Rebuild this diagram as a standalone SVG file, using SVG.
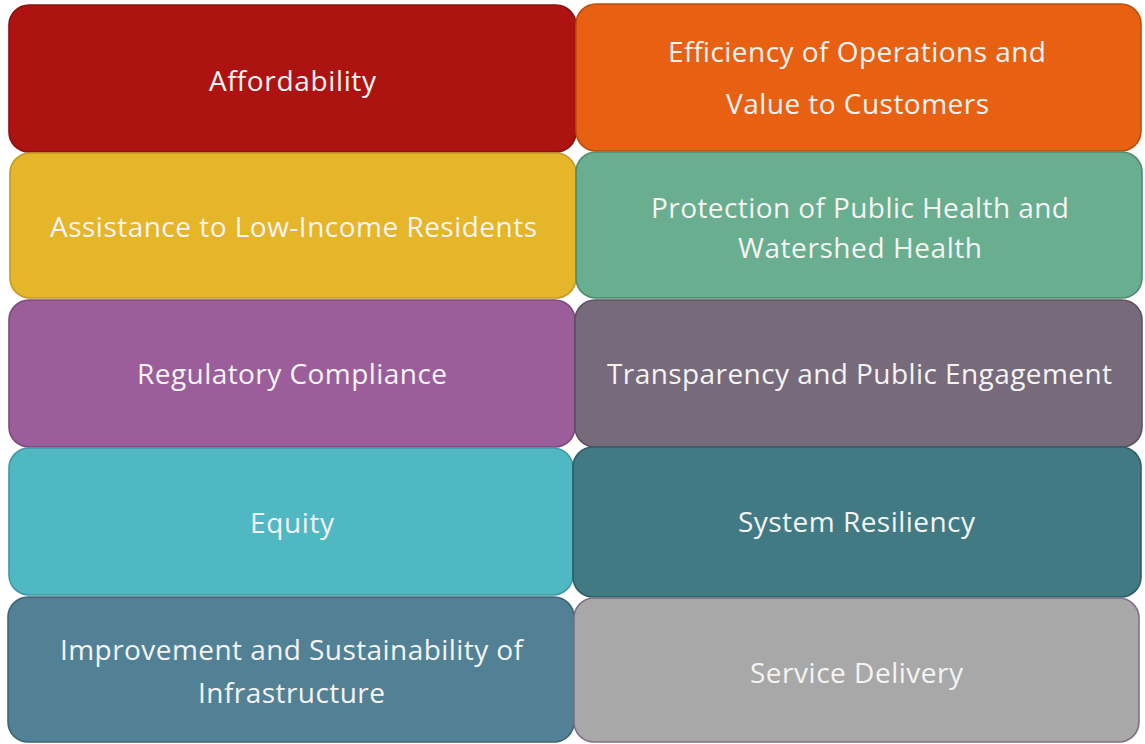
<svg xmlns="http://www.w3.org/2000/svg" width="1145" height="744" viewBox="0 0 1145 744">
  <style>
    .box { stroke-width: 1.6; }
    .lbl { font-family: "Open Sans", "Liberation Sans", sans-serif; font-size: 28px; fill: #f4f4f4; text-anchor: middle; }
  </style>
  <rect width="1145" height="744" fill="#ffffff"/>

  <g id="affordability">
    <rect class="box" x="9" y="5" width="567" height="147" rx="20" fill="#ad1411" stroke="#8a1010"/>
    <text class="lbl" x="292.5" y="91" textLength="167">Affordability</text>
  </g>
  <g id="efficiency">
    <rect class="box" x="576" y="4" width="565" height="147" rx="20" fill="#e86113" stroke="#b94e10"/>
    <text class="lbl" x="857" y="62" textLength="378">Efficiency of Operations and</text>
    <text class="lbl" x="857.5" y="114" textLength="263">Value to Customers</text>
  </g>
  <g id="assistance">
    <rect class="box" x="10" y="153" width="566" height="145" rx="20" fill="#e5b52a" stroke="#c39a22"/>
    <text class="lbl" x="293.5" y="237" textLength="487">Assistance to Low-Income Residents</text>
  </g>
  <g id="protection">
    <rect class="box" x="576" y="152" width="566" height="146" rx="20" fill="#68ae8f" stroke="#4e8b70"/>
    <text class="lbl" x="860" y="218" textLength="418">Protection of Public Health and</text>
    <text class="lbl" x="860" y="258" textLength="244">Watershed Health</text>
  </g>
  <g id="regulatory">
    <rect class="box" x="9" y="300" width="566" height="147" rx="20" fill="#9b5e9a" stroke="#7c4a7b"/>
    <text class="lbl" x="292" y="384" textLength="310">Regulatory Compliance</text>
  </g>
  <g id="transparency">
    <rect class="box" x="575" y="300" width="567" height="147" rx="20" fill="#776a7a" stroke="#5c5160"/>
    <text class="lbl" x="859.5" y="384" textLength="505">Transparency and Public Engagement</text>
  </g>
  <g id="equity">
    <rect class="box" x="9" y="448" width="564" height="147" rx="20" fill="#50b8c2" stroke="#3d9aa4"/>
    <text class="lbl" x="292" y="533" textLength="84">Equity</text>
  </g>
  <g id="resiliency">
    <rect class="box" x="573" y="447" width="568" height="150" rx="20" fill="#417a83" stroke="#2e5d65"/>
    <text class="lbl" x="856.5" y="532" textLength="237">System Resiliency</text>
  </g>
  <g id="infrastructure">
    <rect class="box" x="8" y="597" width="566" height="145" rx="20" fill="#528196" stroke="#3e6577"/>
    <text class="lbl" x="291.5" y="660" textLength="463">Improvement and Sustainability of</text>
    <text class="lbl" x="291.5" y="703" textLength="187">Infrastructure</text>
  </g>
  <g id="service">
    <rect class="box" x="574" y="598" width="565" height="144" rx="20" fill="#a8a8a8" stroke="#806f88"/>
    <text class="lbl" x="856.5" y="683" textLength="213">Service Delivery</text>
  </g>

  <g id="connectors"/>
</svg>
